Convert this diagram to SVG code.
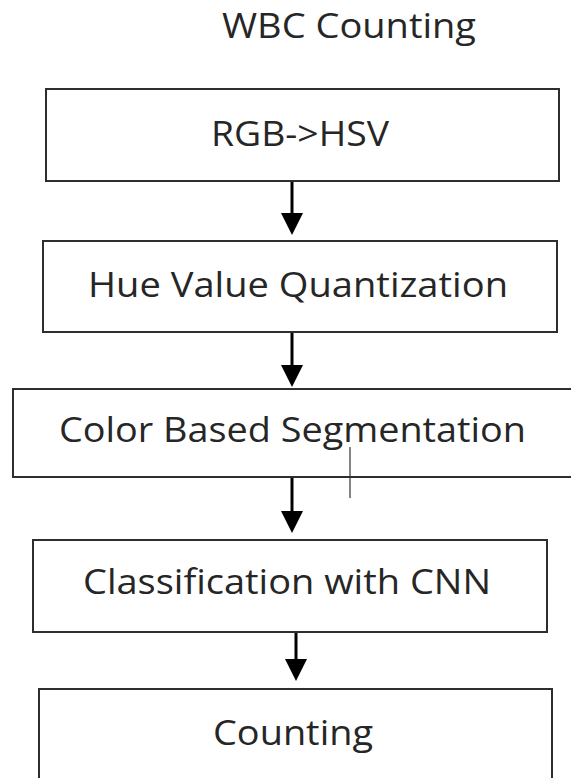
<svg xmlns="http://www.w3.org/2000/svg" width="571" height="778" viewBox="0 0 571 778">
  <style>
    .box { fill: #ffffff; stroke: #2e2e2e; stroke-width: 2; }
    .label { font-family: "Open Sans", "Liberation Sans", sans-serif; font-size: 35px; fill: #262626; }
    .flow { stroke: #000000; stroke-width: 3; fill: none; }
    .tick { stroke: #333333; stroke-width: 1.2; }
  </style>
  <defs>
    <marker id="head" markerUnits="userSpaceOnUse" viewBox="0 0 22 22" markerWidth="22" markerHeight="22" refX="0" refY="11" orient="auto">
      <path d="M0,0 L22,11 L0,22 Z" fill="#000000"/>
    </marker>
  </defs>
  <rect width="571" height="778" fill="#ffffff"/>

  <text id="title" class="label" x="222" y="38" textLength="254" lengthAdjust="spacingAndGlyphs">WBC Counting</text>

  <g id="rgb-hsv">
    <rect class="box" x="46" y="89" width="513" height="92"/>
    <text class="label" x="211" y="146" textLength="178" lengthAdjust="spacingAndGlyphs">RGB-&gt;HSV</text>
  </g>

  <g id="hue-quantization">
    <rect class="box" x="43" y="241" width="514" height="91"/>
    <text class="label" x="88" y="297" textLength="420" lengthAdjust="spacingAndGlyphs">Hue Value Quantization</text>
  </g>

  <g id="color-segmentation">
    <rect class="box" x="13" y="389" width="570" height="88"/>
    <text class="label" x="59" y="442" textLength="467" lengthAdjust="spacingAndGlyphs">Color Based Segmentation</text>
  </g>

  <g id="cnn-classification">
    <rect class="box" x="33" y="540" width="514" height="92"/>
    <text class="label" x="83" y="594" textLength="408" lengthAdjust="spacingAndGlyphs">Classification with CNN</text>
  </g>

  <g id="counting">
    <rect class="box" x="39" y="689" width="513" height="100"/>
    <text class="label" x="213" y="745" textLength="160" lengthAdjust="spacingAndGlyphs">Counting</text>
  </g>

  <g id="connectors">
    <line class="flow" x1="292" y1="182" x2="292" y2="213" marker-end="url(#head)"/>
    <line class="flow" x1="292" y1="333" x2="292" y2="365" marker-end="url(#head)"/>
    <line class="flow" x1="292" y1="478" x2="292" y2="511" marker-end="url(#head)"/>
    <line class="flow" x1="296" y1="633" x2="296" y2="659" marker-end="url(#head)"/>
  </g>

  <line class="tick" x1="350" y1="447" x2="350" y2="498"/>
</svg>
